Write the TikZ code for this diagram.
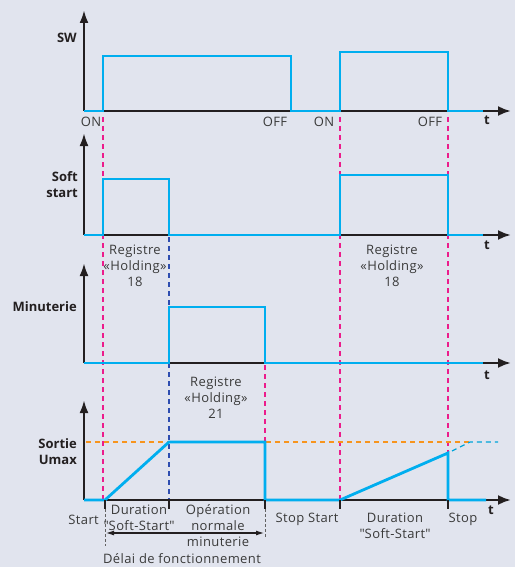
\documentclass[tikz,border=0pt]{standalone}
\usepackage{fontspec}
\setmainfont{Open Sans}
\newfontfamily\lblfont[LetterSpace=3]{Open Sans}
\usetikzlibrary{arrows.meta}
\definecolor{bg}{HTML}{E1E4EE}
\definecolor{sig}{HTML}{00AEEF}
\definecolor{axc}{HTML}{231F20}
\definecolor{pinkd}{HTML}{EC1C8C}
\definecolor{blued}{HTML}{2E4DB0}
\definecolor{orad}{HTML}{F7941D}
\definecolor{txt}{HTML}{3A3A3A}
\begin{document}
\begin{tikzpicture}[x=1pt,y=-1pt,
  axis/.style={draw=axc,line width=2.4pt,-{Latex[length=13pt,width=10pt]}},
  yaxis/.style={draw=axc,line width=2.4pt,{Latex[length=13pt,width=9pt]}-},
  trace/.style={draw=sig,line width=2.8pt,line join=miter},
  pinkline/.style={draw=pinkd,line width=1.3pt,dash pattern=on 5pt off 4pt},
  blueline/.style={draw=blued,line width=1.3pt,dash pattern=on 5pt off 4pt},
  oraline/.style={draw=orad,line width=1.3pt,dash pattern=on 5pt off 4pt},
  tickm/.style={draw=axc,line width=1.2pt},
  dotl/.style={draw=txt!80,line width=1pt,dash pattern=on 2.5pt off 2.5pt},
  lbl/.style={text=txt,font=\lblfont\fontsize{13}{16}\selectfont,inner sep=0pt,align=center},
  blbl/.style={text=axc,font=\fontsize{13}{16}\selectfont\bfseries,inner sep=0pt,align=right,anchor=east},
  tl/.style={text=axc,font=\fontsize{13}{14}\selectfont\bfseries,inner sep=0pt}]
\fill[bg] (0,0) rectangle (515,567);
\useasboundingbox (0,0) rectangle (515,567);

% coordinates
\coordinate (o1) at (84,111); \coordinate (y1) at (84,10); \coordinate (x1) at (511,111);
\coordinate (o2) at (84,235); \coordinate (y2) at (84,133); \coordinate (x2) at (511,235);
\coordinate (o3) at (84,363); \coordinate (y3) at (84,263); \coordinate (x3) at (511,363);
\coordinate (o4) at (84,500); \coordinate (y4) at (84,400); \coordinate (x4) at (511,500);

% vertical dashed markers
\coordinate (pa1) at (103,117); \coordinate (pa2) at (103,500);
\coordinate (pb1) at (340,117); \coordinate (pb2) at (340,500);
\coordinate (pc1) at (448,117); \coordinate (pc2) at (448,500);
\coordinate (pd1) at (265,365); \coordinate (pd2) at (265,500);
\coordinate (bd1) at (169,237); \coordinate (bd2) at (169,500);
\draw[pinkline] (pa1) -- (pa2);
\draw[pinkline] (pb1) -- (pb2);
\draw[pinkline] (pc1) -- (pc2);
\draw[pinkline] (pd1) -- (pd2);
\draw[blueline] (bd1) -- (bd2);

% orange Umax line
\coordinate (u1) at (86,442); \coordinate (u2) at (470,442);
\draw[oraline] (u1) -- (u2);

% axes
\draw[axis] (o1) -- (x1); \draw[yaxis] (y1) -- (o1);
\draw[axis] (o2) -- (x2); \draw[yaxis] (y2) -- (o2);
\draw[axis] (o3) -- (x3); \draw[yaxis] (y3) -- (o3);
\draw[axis] (o4) -- (x4); \draw[yaxis] (y4) -- (o4);

% traces
\draw[trace] (84,111) -- (103,111) -- (103,56) -- (291,56) -- (291,111) -- (340,111) -- (340,52) -- (448,52) -- (448,111) -- (483,111);
\draw[trace] (84,235) -- (103,235) -- (103,179) -- (169,179) -- (169,235) -- (340,235) -- (340,175) -- (448,175) -- (448,235) -- (483,235);
\draw[trace] (84,363) -- (169,363) -- (169,307) -- (265,307) -- (265,363) -- (483,363);
\draw[trace] (84,500) -- (105,500) -- (169,442) -- (265,442) -- (265,500) -- (340,500) -- (448,453) -- (448,500) -- (486,500);
\coordinate (c1) at (452,451); \coordinate (c2) at (470,442); \coordinate (c3) at (498,442);
\draw[draw=sig!80!teal,line width=1.3pt,dash pattern=on 5pt off 4pt] (c1) -- (c2) -- (c3);

% ticks bottom
\foreach \xx in {105,169,265,340,448} \draw[tickm] (\xx,500) -- (\xx,509);
\coordinate (d1a) at (105,509); \coordinate (d1b) at (105,546);
\coordinate (d2a) at (265,509); \coordinate (d2b) at (265,538);
\draw[dotl] (d1a) -- (d1b);
\draw[dotl] (d2a) -- (d2b);
\coordinate (ar1) at (106,533); \coordinate (ar2) at (264,533);
\draw[draw=axc,line width=1.1pt,{Latex[length=8pt,width=5pt]}-{Latex[length=8pt,width=5pt]}] (ar1) -- (ar2);

% labels
\node[blbl] (lsw) at (77,38) {SW};
\node[lbl] (on1) at (91,122) {ON};
\node[lbl] (off1) at (275,122) {OFF};
\node[lbl] (on2) at (324,122) {ON};
\node[lbl] (off2) at (430,122) {OFF};
\node[tl] (t1) at (487,120) {t};
\node[blbl] (lss) at (78,185) {Soft\\start};
\node[tl] (t2) at (487,245) {t};
\node[lbl] (r18a) at (135,266) {Registre\\«Holding»\\18};
\node[lbl] (r18b) at (392,266) {Registre\\«Holding»\\18};
\node[blbl] (lmin) at (77,307) {Minuterie};
\node[tl] (t3) at (487,375) {t};
\node[lbl] (r21) at (216,398) {Registre\\«Holding»\\21};
\node[blbl] (lso) at (77,452) {Sortie\\Umax};
\node[tl] (t4) at (491,510) {t};
\node[lbl,anchor=east] (st) at (99,520) {Start};
\node[lbl] (dur1) at (139,518) {Duration\\\textquotedbl Soft-Start\textquotedbl};
\node[lbl] (op) at (218,526) {Opération\\normale\\minuterie};
\node[lbl] (del) at (182,559) {Délai de fonctionnement};
\node[lbl] (ss) at (307,519) {Stop Start};
\node[lbl] (dur2) at (395,526) {Duration\\\textquotedbl Soft-Start\textquotedbl};
\node[lbl] (stp) at (463,519) {Stop};
\end{tikzpicture}
\end{document}
